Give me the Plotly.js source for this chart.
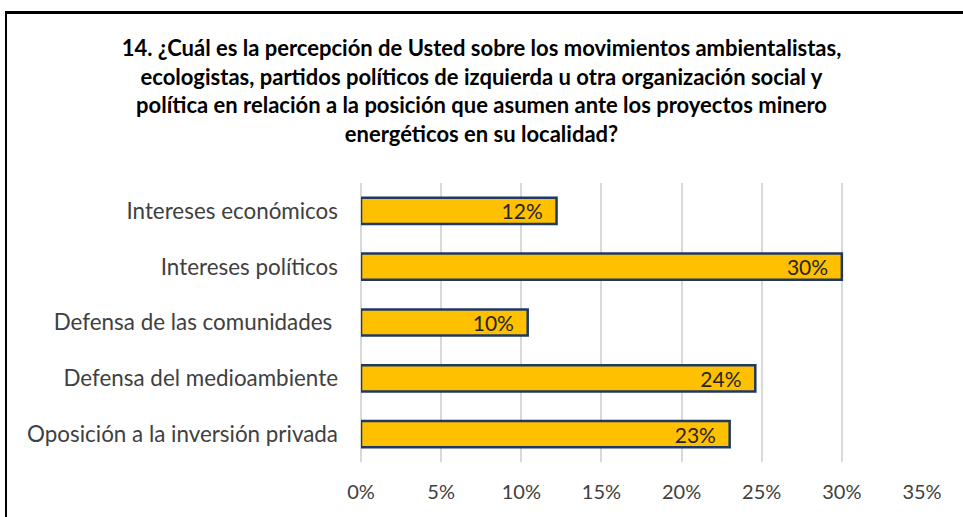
<!DOCTYPE html>
<html>
<head>
<meta charset="utf-8">
<script src="https://cdn.plot.ly/plotly-3.0.1.min.js"></script>
<style>
html,body{margin:0;padding:0;background:#fff;}
#wrap{position:relative;width:963px;height:517px;overflow:hidden;}
#chart{width:963px;height:517px;}
#frame{position:absolute;left:5px;top:11px;width:1000px;height:600px;border-top:3px solid #000;border-left:2px solid #000;pointer-events:none;}
</style>
</head>
<body>
<div id="wrap"><div id="chart"></div><div id="frame"></div></div>
<script>
const categories = ["Intereses económicos","Intereses políticos","Defensa de las comunidades ","Defensa del medioambiente","Oposición a la inversión privada"];
const values = [0.122, 0.30, 0.104, 0.246, 0.23];
const labels = ["12%","30%","10%","24%","23%"];
const tickVals = [0,0.05,0.10,0.15,0.20,0.25,0.30,0.35];
const tickText = ["0%","5%","10%","15%","20%","25%","30%","35%"];

const font = "Lato, Carlito, Calibri, sans-serif";

const trace = {
  type: "bar",
  orientation: "h",
  x: values,
  y: categories,
  text: labels,
  texttemplate: "%{text}\u00a0\u00a0",
  textposition: "inside",
  insidetextanchor: "end",
  textangle: 0,
  constraintext: "none",
  textfont: {family: font, size: 21, color: "#262626"},
  marker: {color: "#FFC000", line: {color: "#1F3864", width: 2.5}},
  width: 0.47,
  hoverinfo: "skip"
};

const layout = {
  width: 963, height: 517,
  paper_bgcolor: "#fff", plot_bgcolor: "#fff",
  margin: {l: 361, r: 41, t: 183, b: 55},
  showlegend: false,
  title: {
    text: "<b>14. ¿Cuál es la percepción de Usted sobre los movimientos ambientalistas,<br>ecologistas, partidos políticos de izquierda u otra organización social y<br>política en relación a la posición que asumen ante los proyectos minero<br>energéticos en su localidad?</b>",
    font: {family: font, size: 22, color: "#000"},
    x: 0.5, xanchor: "center",
    y: 1 - 56/517, yref: "container", yanchor: "top"
  },
  xaxis: {
    range: [0, 0.35],
    tickvals: tickVals, ticktext: tickText,
    showgrid: true, gridcolor: "#D9D9D9", gridwidth: 2,
    zeroline: true, zerolinecolor: "#D9D9D9", zerolinewidth: 2,
    showline: false, ticks: "",
    ticklabelstandoff: 16,
    tickfont: {family: font, size: 20, color: "#404040"},
    fixedrange: true
  },
  yaxis: {
    autorange: "reversed",
    showgrid: false, zeroline: false, showline: false, ticks: "",
    ticklabelstandoff: 22,
    tickfont: {family: font, size: 22.4, color: "#404040"},
    fixedrange: true
  },
  bargap: 0.53
};

Plotly.newPlot("chart", [trace], layout, {displayModeBar: false, staticPlot: true});
</script>
</body>
</html>
